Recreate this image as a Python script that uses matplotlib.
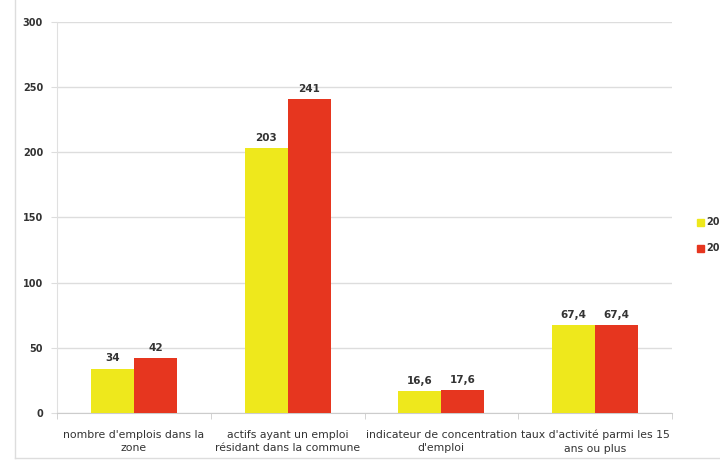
import numpy as np
import matplotlib
matplotlib.use("Agg")
import matplotlib.pyplot as plt
from matplotlib.patches import Rectangle

categories = ["nombre d'emplois dans la\nzone",
              "actifs ayant un emploi\nrésidant dans la commune",
              "indicateur de concentration\nd'emploi",
              "taux d'activité parmi les 15\nans ou plus"]
series_names = ["2007", "2012"]
values_a = [34, 203, 16.6, 67.4]
values_b = [42, 241, 17.6, 67.4]
labels_a = ["34", "203", "16,6", "67,4"]
labels_b = ["42", "241", "17,6", "67,4"]
yticks = [0, 50, 100, 150, 200, 250, 300]

yellow = "#eee81c"
red = "#e6361f"
text_col = "#333333"

fig = plt.figure(figsize=(7.2, 4.62), dpi=100)
ax = fig.add_axes([57 / 720, 1 - 413 / 462, 615 / 720, 391 / 462])

x = np.arange(len(categories))
w = 0.28
ax.bar(x - w / 2, values_a, w, color=yellow, zorder=3)
ax.bar(x + w / 2, values_b, w, color=red, zorder=3)

for xi, v, s in zip(x - w / 2, values_a, labels_a):
    ax.text(xi, v + 4, s, ha="center", va="bottom", fontsize=7.5, fontweight="bold", color=text_col)
for xi, v, s in zip(x + w / 2, values_b, labels_b):
    ax.text(xi, v + 4, s, ha="center", va="bottom", fontsize=7.5, fontweight="bold", color=text_col)

ax.set_xlim(-0.5, len(categories) - 0.5)
ax.set_ylim(0, 300)
ax.set_yticks(yticks)
ax.set_yticklabels([str(t) for t in yticks], fontsize=7, fontweight="bold", color=text_col)
ax.yaxis.grid(True, color="#dddddd", linewidth=1, zorder=0)
ax.set_xticks(x)
ax.set_xticklabels(categories, fontsize=7.8, color=text_col, linespacing=1.45)
ax.tick_params(axis="x", length=0, pad=12)
ax.tick_params(axis="y", length=4, color="#dddddd", pad=6)
# separators between categories
ax.set_xticks(np.arange(len(categories) + 1) - 0.5, minor=True)
ax.tick_params(axis="x", which="minor", length=4, color="#cccccc")
for side in ["top", "right"]:
    ax.spines[side].set_visible(False)
ax.spines["left"].set_color("#e0e0e0")
ax.spines["bottom"].set_color("#cccccc")

# legend (cut off at the right edge in the reference)
for yy, col, name in zip([222, 248], [yellow, red], series_names):
    fig.patches.append(Rectangle((697 / 720, 1 - (yy + 4) / 462), 7 / 720, 7 / 462,
                                 transform=fig.transFigure, color=col, figure=fig))
    fig.text(706 / 720, 1 - yy / 462, name, fontsize=7, fontweight="bold",
             color=text_col, va="center")

# outer frame lines
fig.add_artist(plt.Line2D([15 / 720, 15 / 720], [1 - 458 / 462, 1], color="#dddddd", lw=1))
fig.add_artist(plt.Line2D([15 / 720, 1], [1 - 458 / 462, 1 - 458 / 462], color="#dddddd", lw=1))

fig.savefig("out.png", dpi=100)
